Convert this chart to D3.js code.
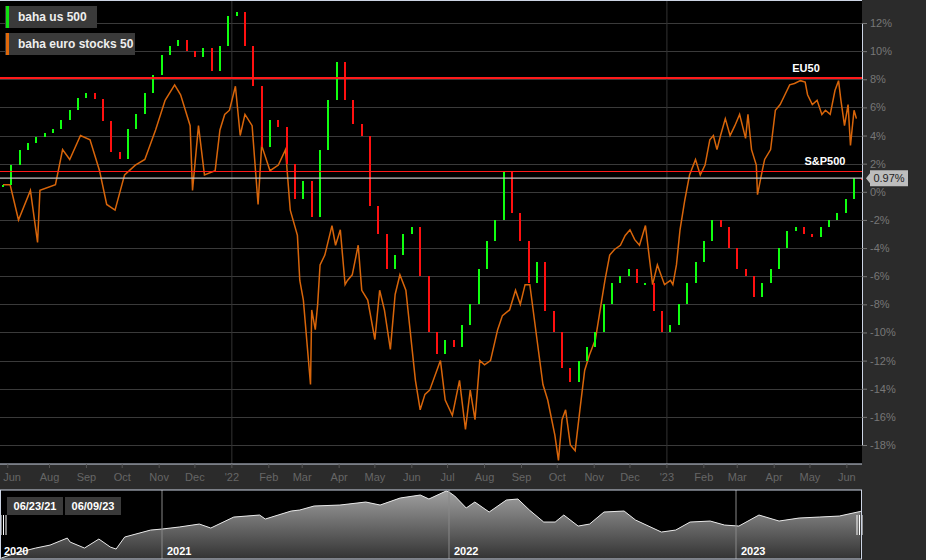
<!DOCTYPE html>
<html>
<head>
<meta charset="utf-8">
<script src="https://cdn.jsdelivr.net/npm/d3@7"></script>
<style>
body{margin:0;background:#2b2b2b;}
text{font-family:Arial,"Liberation Sans",sans-serif;}
</style>
</head>
<body>
<div id="chart"></div>
<script>
// S&P weekly closes (% vs start), one per week from 06/23/21
const spStart = "2021-06-23";
const spVals = [0.5,1.9,3.0,3.5,3.9,4.2,4.5,5.1,5.8,6.7,7.0,6.6,5.0,2.8,2.3,4.5,5.5,7.0,8.3,9.7,
  10.4,10.8,10.0,9.6,10.2,8.6,10.4,12.5,12.8,10.4,7.5,3.2,5.1,4.6,2.0,-0.5,0.8,-1.8,3.0,6.5,
  9.2,6.5,4.8,4.0,-1.0,-3.0,-5.5,-4.5,-3.0,-2.5,-6.0,-10.0,-11.5,-10.5,-11.0,-9.5,-8.0,-5.5,-3.5,-2.0,
  1.5,-1.5,-3.5,-6.5,-5.0,-8.5,-10.0,-12.5,-13.5,-12.0,-11.0,-10.0,-8.0,-6.5,-6.0,-5.5,-6.5,-6.5,-8.5,-10.0,
  -9.5,-8.0,-6.5,-5.0,-3.5,-2.0,-2.5,-4.0,-5.5,-6.0,-7.5,-6.5,-5.5,-4.0,-2.8,-2.5,-3.0,-3.2,-2.5,-2.0,
  -1.5,-0.5,1.0,0.97];
// Euro stocks 50: day offset from start, % value
const euDays = [0,6,13,23,29,31,44,50,56,65,73,81,87,94,102,111,119,128,136,144,149,157,159,164,169,178,182,186,190,195,
  199,203,209,214,217,224,231,237,241,247,249,252,258,259,262,264,266,270,276,279,283,287,289,293,298,301,306,312,316,320,
  325,329,333,338,346,350,354,358,367,371,377,383,388,392,396,400,404,409,415,419,425,430,434,438,442,448,453,457,463,466,
  469,472,476,480,484,488,492,497,501,505,509,513,518,522,526,530,534,539,541,545,549,555,560,562,565,568,572,576,581,585,
  589,593,596,599,602,606,610,614,618,623,625,628,632,633,637,639,644,648,652,656,660,664,669,673,675,679,683,687,690,694,
  698,701,703,706,709,711,714,716];
const euVals = [0.5,0.5,-2.0,0.1,-3.6,0.1,0.5,3.0,2.3,4.0,3.7,1.5,-0.9,-1.3,1.2,1.9,2.3,4.4,6.5,7.6,6.9,4.7,0.1,4.7,1.2,1.5,4.4,5.5,5.8,7.5,
  4.0,5.5,4.7,-0.9,3.3,1.5,1.9,3.0,-1.3,-3.1,-6.3,-7.7,-13.7,-8.4,-9.8,-8.0,-5.2,-4.5,-2.4,-3.8,-2.7,-6.6,-6.3,-5.9,-3.8,-7.0,-7.7,-10.5,-7.0,-8.4,
  -11.2,-7.3,-5.9,-7.0,-13.4,-15.5,-14.4,-14.1,-12.0,-14.8,-15.9,-13.4,-16.9,-14.1,-16.2,-12.0,-12.3,-12.0,-9.8,-8.8,-8.4,-7.0,-8.0,-6.6,-6.6,-10.5,-13.7,-14.8,-17.3,-19.1,
  -16.2,-15.5,-18.0,-18.4,-15.5,-12.7,-11.6,-10.5,-8.4,-6.3,-4.5,-4.1,-3.8,-3.1,-2.7,-3.4,-3.8,-2.4,-3.8,-6.6,-5.2,-6.6,-6.3,-6.6,-5.2,-2.7,-0.6,1.2,2.3,1.2,
  1.9,3.7,4.0,3.0,4.0,5.2,4.0,4.7,5.5,3.8,5.5,3.0,1.9,-0.2,1.5,2.3,3.0,5.8,6.2,6.9,7.6,7.7,7.9,7.8,6.9,6.2,6.5,5.5,5.8,5.5,
  7.2,7.9,6.5,4.7,6.2,3.3,5.8,5.2];
const yTicks = d3.range(-18, 13, 2);
const monthTicks = [["2021-06-27","Jun"],["2021-08-01","Aug"],["2021-09-01","Sep"],["2021-10-01","Oct"],["2021-11-01","Nov"],["2021-12-01","Dec"],
  ["2022-01-01","'22"],["2022-02-01","Feb"],["2022-03-01","Mar"],["2022-04-01","Apr"],["2022-05-01","May"],["2022-06-01","Jun"],["2022-07-01","Jul"],
  ["2022-08-01","Aug"],["2022-09-01","Sep"],["2022-10-01","Oct"],["2022-11-01","Nov"],["2022-12-01","Dec"],["2023-01-01","'23"],["2023-02-01","Feb"],
  ["2023-03-01","Mar"],["2023-04-01","Apr"],["2023-05-01","May"],["2023-06-01","Jun"]];
const levels = [{v:8.1,label:"EU50"},{v:1.45,label:"S&P500"}];
const lastSP = 0.97;
// navigator: decimal year, index level
const navYears = [2020.44,2020.49,2020.56,2020.61,2020.67,2020.68,2020.73,2020.78,2020.82,2020.84,2020.87,2020.96,2021.00,2021.06,2021.13,2021.17,2021.25,2021.34,2021.36,2021.45,
  2021.48,2021.53,2021.62,2021.71,2021.76,2021.83,2021.90,2021.93,2021.99,2022.00,2022.02,2022.06,2022.09,2022.14,2022.20,2022.24,2022.28,2022.33,2022.37,2022.40,
  2022.45,2022.49,2022.54,2022.61,2022.65,2022.74,2022.79,2022.84,2022.91,2022.96,2023.01,2023.08,2023.15,2023.22,2023.29,2023.36,2023.44];
const navVals = [3000,3132,3267,3347,3536,3428,3267,3509,3294,3240,3563,3750,3778,3832,3912,3805,4100,4154,4047,4262,
  4289,4397,4423,4504,4423,4612,4692,4585,4800,4773,4665,4343,4504,4235,4558,4585,4289,3966,3966,4154,
  3858,3912,4235,4262,4020,3697,3751,3966,3993,3885,3858,4154,3993,4074,4100,4127,4262];
const navYearLabels = [2020,2021,2022,2023];
const rangeLabels = ["06/23/21","06/09/23"];

const W = 926, H = 560, pw = 862, ph = 464;
const svg = d3.select("#chart").append("svg").attr("width",W).attr("height",H);
svg.append("rect").attr("width",W).attr("height",H).attr("fill","#2b2b2b");
svg.append("rect").attr("width",pw).attr("height",ph).attr("fill","#000");

const parse = d3.timeParse("%Y-%m-%d");
const t0 = parse(spStart);
const x = d3.scaleTime().domain([t0, parse("2023-06-12")]).range([3, 860]);
const y = d3.scaleLinear().domain([-18,12]).range([445,23]);
const day = d => d3.timeDay.offset(t0, d);

// grid
svg.append("g").selectAll("line").data(yTicks).join("line")
  .attr("x1",0).attr("x2",pw).attr("y1",d=>Math.round(y(d))+0.5).attr("y2",d=>Math.round(y(d))+0.5)
  .attr("stroke","#3a3a3a");
svg.append("g").selectAll("line").data(["2022-01-01","2023-01-01"]).join("line")
  .attr("x1",d=>x(parse(d))).attr("x2",d=>x(parse(d))).attr("y1",0).attr("y2",ph)
  .attr("stroke","#333");

// euro line
svg.append("path").datum(euDays.map((d,i)=>[day(d),euVals[i]]))
  .attr("fill","none").attr("stroke","#d8650a").attr("stroke-width",1.5)
  .attr("d",d3.line().x(d=>x(d[0])).y(d=>y(d[1])));

// S&P bars
svg.append("g").attr("shape-rendering","crispEdges").selectAll("rect").data(spVals).join("rect")
  .attr("x",(d,i)=>x(day(i*7))-1)
  .attr("width",2)
  .attr("y",(d,i)=>y(Math.max(d, i?spVals[i-1]:d)))
  .attr("height",(d,i)=>Math.max(2,Math.abs(y(d)-y(i?spVals[i-1]:d))))
  .attr("fill",(d,i)=>(i&&d<spVals[i-1])?"#ff1010":"#10ff10");

// level lines
svg.append("g").attr("shape-rendering","crispEdges").selectAll("line").data(levels).join("line")
  .attr("x1",0).attr("x2",pw).attr("y1",d=>y(d.v)).attr("y2",d=>y(d.v))
  .attr("stroke","#ff1a1a").attr("stroke-width",1.5);
svg.append("g").selectAll("text").data(levels).join("text")
  .attr("x",(d,i)=>i?825:806).attr("y",d=>y(d.v)-6).attr("text-anchor","middle")
  .attr("fill","#fff").attr("font-size",11).attr("font-weight","bold").text(d=>d.label);
svg.append("line").attr("x1",0).attr("x2",pw).attr("y1",y(lastSP)).attr("y2",y(lastSP))
  .attr("stroke","#c0c0c0").attr("stroke-width",1.2);

// right axis
const ya = svg.append("g").attr("transform",`translate(${pw},0)`)
  .call(d3.axisRight(y).tickValues(yTicks).tickSize(5).tickFormat(d=>d+"%"));
ya.select(".domain").attr("stroke","#ccd4e4");
ya.selectAll(".tick line").attr("stroke","#777");
ya.selectAll(".tick text").attr("fill","#777").attr("font-size",11).attr("x",8);
const lb = svg.append("g").attr("transform",`translate(${pw+4},${y(lastSP)})`);
lb.append("path").attr("d","M0,0 L4,-5 L4,-8 L42,-8 L42,8 L4,8 L4,5 Z").attr("fill","#bdbdbd");
lb.append("text").attr("x",23).attr("y",4).attr("text-anchor","middle").attr("fill","#222")
  .attr("font-size",11).text(lastSP.toFixed(2)+"%");

// frame
svg.append("line").attr("x1",0).attr("x2",pw).attr("y1",0.5).attr("y2",0.5).attr("stroke","#ccd4e4");
svg.append("line").attr("x1",0).attr("x2",pw).attr("y1",ph).attr("y2",ph).attr("stroke","#ccd4e4");

// bottom axis
const xa = svg.append("g").attr("transform",`translate(0,${ph})`);
xa.selectAll("line").data(monthTicks).join("line")
  .attr("x1",d=>x(parse(d[0]))).attr("x2",d=>x(parse(d[0]))).attr("y1",0).attr("y2",4).attr("stroke","#555");
xa.selectAll("text").data(monthTicks).join("text")
  .attr("x",d=>Math.max(12,x(parse(d[0])))).attr("y",17).attr("text-anchor","middle")
  .attr("fill","#666").attr("font-size",11).text(d=>d[1]);

// legend
const legend = [["baha us 500","#10e010",92],["baha euro stocks 50","#e0680a",130]];
legend.forEach((l,i)=>{
  const g = svg.append("g").attr("transform",`translate(5,${6+i*27})`);
  g.append("rect").attr("width",l[2]).attr("height",22).attr("fill","#3a3a3a");
  g.append("rect").attr("x",1).attr("width",3).attr("height",22).attr("fill",l[1]);
  g.append("text").attr("x",13).attr("y",15).attr("fill","#eee").attr("font-size",12)
    .attr("font-weight","bold").text(l[0]);
});

// navigator
const ny0 = 490, ny1 = 559;
const nx = d3.scaleLinear().domain([2021,2022]).range([162,449]);
const nyS = d3.scaleLinear().domain([3000,4800]).range([558,491]);
const nav = svg.append("g");
nav.append("rect").attr("x",0).attr("y",ny0).attr("width",pw).attr("height",ny1-ny0).attr("fill","#000");
const defs = svg.append("defs");
[["gDark","#666","#111"],["gLight","#a0a0a0","#333"]].forEach(g=>{
  const lg = defs.append("linearGradient").attr("id",g[0]).attr("x1",0).attr("x2",0).attr("y1",0).attr("y2",1);
  lg.append("stop").attr("offset","0%").attr("stop-color",g[1]);
  lg.append("stop").attr("offset","100%").attr("stop-color",g[2]);
});
defs.append("clipPath").attr("id","selClip").append("rect")
  .attr("x",x(t0)-4).attr("y",ny0).attr("width",860-x(t0)+4).attr("height",ny1-ny0);
defs.append("clipPath").attr("id","navClip").append("rect")
  .attr("x",0).attr("y",ny0).attr("width",pw).attr("height",ny1-ny0);
const navData = navYears.map((d,i)=>[d,navVals[i]]);
const area = d3.area().x(d=>nx(d[0])).y0(ny1).y1(d=>nyS(d[1]));
nav.append("path").datum(navData).attr("d",area).attr("fill","url(#gDark)").attr("clip-path","url(#navClip)");
nav.append("path").datum(navData).attr("d",area).attr("fill","url(#gLight)").attr("clip-path","url(#selClip)");
nav.append("path").datum(navData).attr("d",d3.line().x(d=>nx(d[0])).y(d=>nyS(d[1])))
  .attr("fill","none").attr("stroke","#e8e8e8").attr("stroke-width",1).attr("clip-path","url(#navClip)");
nav.selectAll(".yl").data(navYearLabels).join("line")
  .attr("x1",d=>nx(d)).attr("x2",d=>nx(d)).attr("y1",ny0).attr("y2",ny1).attr("stroke","#888");
nav.selectAll(".yt").data(navYearLabels).join("text")
  .attr("x",d=>Math.max(4,nx(d)+5)).attr("y",ny1-4).attr("fill","#fff").attr("font-size",11)
  .attr("font-weight","bold").text(d=>d);
[x(t0)-2, 857].forEach(hx=>{
  [0,2.5,5].forEach(o=>nav.append("line").attr("x1",hx+o).attr("x2",hx+o)
    .attr("y1",515).attr("y2",535).attr("stroke","#fff").attr("stroke-width",1));
});
rangeLabels.forEach((t,i)=>{
  nav.append("rect").attr("x",7+i*58).attr("y",497).attr("width",56).attr("height",18).attr("fill","#3a3a3a");
  nav.append("text").attr("x",35+i*58).attr("y",510).attr("text-anchor","middle").attr("fill","#fff")
    .attr("font-size",11).attr("font-weight","bold").text(t);
});
nav.append("rect").attr("x",0.5).attr("y",ny0).attr("width",pw-1).attr("height",ny1-ny0)
  .attr("fill","none").attr("stroke","#ccd4e4");
</script>
</body>
</html>
